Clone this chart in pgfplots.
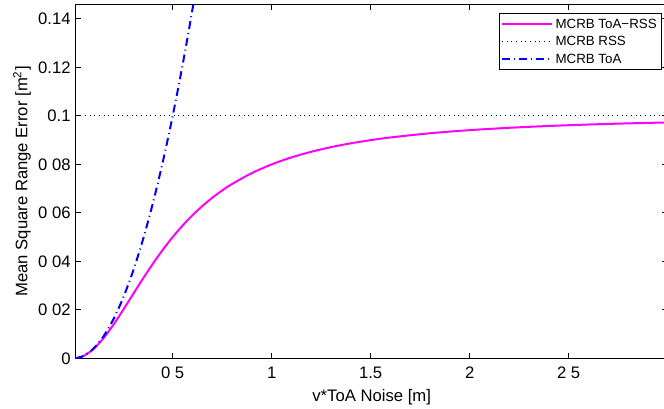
\documentclass[border=0pt]{standalone}
\usepackage{fontspec}
\setmainfont{Liberation Sans}
\usepackage{pgfplots}
\pgfplotsset{compat=1.18}

\begin{document}
\begin{tikzpicture}
\begin{axis}[
  at={(0pt,0pt)}, anchor=south west,
  scale only axis,
  width=355.2pt, height=212.4pt,
  xmin=0.01, xmax=3,
  ymin=0, ymax=0.146,
  axis line style={line width=0.6pt},
  tick style={line width=0.6pt, black},
  major tick length=3.4pt,
  tick align=inside,
  xtick={0.5,1,1.5,2,2.5},
  xticklabels={0 5,1,1.5,2,2 5},
  ytick={0,0.02,0.04,0.06,0.08,0.1,0.12,0.14},
  yticklabels={0,0 02,0 04,0 06,0 08,0.1,0.12,0.14},
  /pgf/number format/assume math mode=true,
  ticklabel style={font=\fontsize{10}{12}\selectfont},
  xticklabel style={yshift=-1.5pt},
  yticklabel style={xshift=0.5pt},
  label style={font=\fontsize{10}{12}\selectfont},
  xlabel={v*ToA Noise [m]},
  ylabel={Mean Square Range Error [m\textsuperscript{2}]},
  every axis x label/.style={at={([yshift=-23.4pt]rel axis cs:0.5,0)}, anchor=center},
  every axis y label/.style={at={([xshift=-32.2pt]rel axis cs:0,0.5)}, anchor=center, rotate=90},
  legend style={
    at={([xshift=-3.6pt,yshift=-5.4pt]rel axis cs:1,1)}, anchor=north east,
    draw=black, line width=0.6pt, fill=white,
    font=\fontsize{8}{9.6}\selectfont,
    inner xsep=1.2pt, inner ysep=1pt,
    nodes={inner sep=1.5pt, text height=6pt, text depth=1.5pt},
    /tikz/every even column/.append style={column sep=0pt},
  },
  legend cell align=left,
  legend image code/.code={\draw[#1] (0pt,0pt) -- (30pt,0pt);},
]
% combined ToA-RSS bound
\addplot[color={rgb,1:red,1;green,0;blue,1}, line width=1.2pt, smooth] coordinates {
  (0.01,0.00004) (0.05,0.00099) (0.1,0.003846) (0.15,0.008257) (0.2,0.013793)
  (0.25,0.02) (0.3,0.026471) (0.35,0.032886) (0.4,0.039024) (0.45,0.044751)
  (0.5,0.05) (0.55,0.054751) (0.6,0.059016) (0.65,0.062825) (0.7,0.066216)
  (0.75,0.069231) (0.8,0.07191) (0.9,0.076415) (1.0,0.08) (1.1,0.082877)
  (1.2,0.085207) (1.3,0.087113) (1.4,0.088688) (1.5,0.09) (1.6,0.091103)
  (1.8,0.092837) (2.0,0.094118) (2.2,0.095088) (2.4,0.09584) (2.6,0.096434)
  (2.8,0.09691) (3.0,0.097297)
};
\addlegendentry{MCRB ToA−RSS}
% RSS-only bound
\addplot[black, line width=0.6pt, dash pattern=on 0.6pt off 2.2pt] coordinates {
  (0.01,0.1) (3.0,0.1)
};
\addlegendentry{MCRB RSS}
% ToA-only bound
\addplot[color={rgb,1:red,0;green,0;blue,1}, line width=1.2pt, smooth,
  dash pattern=on 4.8pt off 2.4pt on 0.6pt off 2.4pt] coordinates {
  (0.01,0.00004) (0.05,0.001) (0.1,0.004) (0.15,0.009) (0.2,0.016)
  (0.25,0.025) (0.3,0.036) (0.35,0.049) (0.4,0.064) (0.45,0.081)
  (0.5,0.1) (0.55,0.121) (0.6,0.144) (0.65,0.169)
};
\addlegendentry{MCRB ToA}
\end{axis}
\pgfresetboundingbox
\useasboundingbox (-45.4pt,-29.8pt) rectangle (353pt,215pt);
\end{tikzpicture}
\end{document}
